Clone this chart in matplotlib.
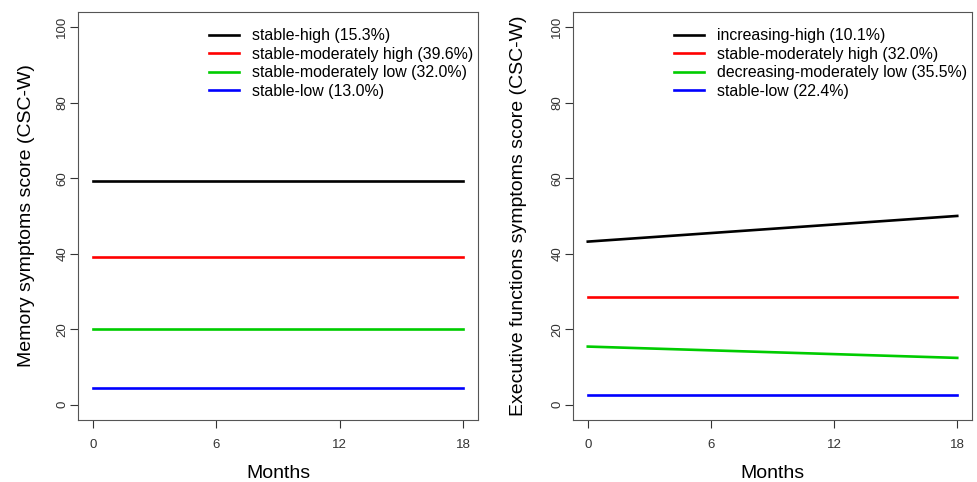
import matplotlib
matplotlib.use("Agg")
from matplotlib import pyplot as plt

plt.rcParams['font.family'] = ['Liberation Sans', 'DejaVu Sans']

months = [0, 18]
colors = ["black", "red", "#00cc00", "blue"]

mem_labels = ["stable-high (15.3%)", "stable-moderately high (39.6%)",
              "stable-moderately low (32.0%)", "stable-low (13.0%)"]
mem_start = [59.2, 39.2, 20.1, 4.5]
mem_end = [59.2, 39.2, 20.1, 4.5]

exe_labels = ["increasing-high (10.1%)", "stable-moderately high (32.0%)",
              "decreasing-moderately low (35.5%)", "stable-low (22.4%)"]
exe_start = [43.2, 28.4, 15.4, 2.7]
exe_end = [50.0, 28.4, 12.4, 2.7]

panels = [
    ("Memory symptoms score (CSC-W)", mem_labels, mem_start, mem_end,
     [0.0798, 0.129, 0.4094, 0.846], -0.107),
    ("Executive functions symptoms score (CSC-W)", exe_labels, exe_start, exe_end,
     [0.5865, 0.129, 0.4084, 0.846], -0.115),
]

fig = plt.figure(figsize=(9.77, 4.82), dpi=100)

for ylabel, labels, start, end, rect, ylab_x in panels:
    ax = fig.add_axes(rect)
    for lab, s, e, c in zip(labels, start, end, colors):
        ax.plot(months, [s, e], color=c, lw=1.9, label=lab)
    ax.set_xlim(-0.72, 18.72)
    ax.set_ylim(-4, 104)
    ax.set_xticks([0, 6, 12, 18])
    ax.set_yticks([0, 20, 40, 60, 80, 100])
    ax.tick_params(direction='out', length=6, labelsize=9.5, colors='#333333')
    ax.tick_params(axis='x', pad=8)
    ax.tick_params(axis='y', pad=1)
    plt.setp(ax.get_yticklabels(), rotation=90, va='center')
    for sp in ax.spines.values():
        sp.set_color('#555555')
    ax.set_xlabel("Months", fontsize=14, labelpad=10)
    ax.set_ylabel(ylabel, fontsize=14)
    ax.yaxis.set_label_coords(ylab_x, 0.5)
    # legend without frame, top right like the R plot
    ax.legend(loc='upper right', bbox_to_anchor=(1.007, 0.98), frameon=False,
              fontsize=11.4, handlelength=1.9, handletextpad=0.8,
              labelspacing=0.22, borderpad=0)

plt.savefig("out.png", dpi=100)
